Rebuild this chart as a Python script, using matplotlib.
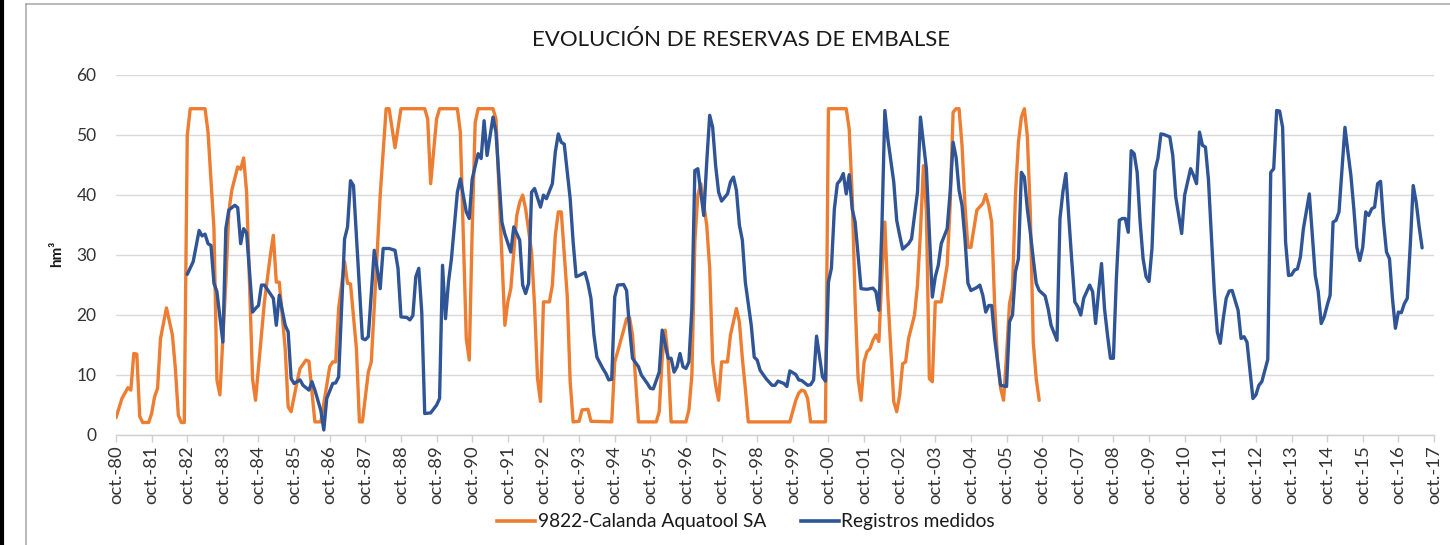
import matplotlib
matplotlib.use("Agg")
import matplotlib.pyplot as plt
from matplotlib.lines import Line2D

# ---------------- data (months counted from oct-1980) ----------------
orange_month = [0, 2, 4, 5, 6, 7, 8, 9, 11, 12, 13, 14, 15, 17, 19, 20, 21, 22, 23, 24, 25, 30, 31, 33, 34, 35,
                37, 38, 39, 41, 42, 43, 44, 46, 47, 50, 51, 52, 53, 54, 55, 57, 58, 59, 61, 62, 64, 65, 67, 69,
                72, 73, 74, 75, 77, 78, 79, 81, 82, 83, 85, 86, 88, 89, 91, 92, 94, 96, 104, 105, 106, 108, 109,
                115, 116, 118, 119, 120, 121, 122, 127, 128, 131, 132, 133, 135, 136, 137, 138, 140, 141, 142,
                143, 144, 146, 147, 148, 149, 150, 152, 153, 154, 156, 157, 159, 160, 167, 168, 169, 171, 172,
                173, 174, 175, 176, 182, 183, 184, 185, 186, 187, 192, 193, 194, 195, 196, 197, 199, 200, 201,
                202, 203, 204, 206, 207, 209, 210, 211, 212, 213, 227, 229, 230, 231, 232, 233, 234, 239, 240,
                246, 247, 248, 249, 250, 251, 252, 253, 254, 255, 256, 257, 258, 259, 260, 262, 263, 264, 265,
                266, 267, 269, 270, 271, 272, 273, 274, 275, 276, 278, 280, 281, 282, 283, 284, 285, 286, 287,
                288, 290, 292, 293, 294, 295, 296, 297, 298, 299, 300, 301, 302, 303, 304, 305, 306, 307, 308,
                309, 310, 311]
orange_value = [2.8, 6.0, 7.8, 7.4, 13.5, 13.4, 3.0, 2.0, 2.0, 3.5, 6.3, 7.7, 16.0, 21.1, 16.6, 11.0, 3.2, 2.0,
                2.0, 49.8, 54.3, 54.3, 50.4, 34.3, 9.1, 6.6, 25.4, 37.1, 40.7, 44.6, 44.2, 46.1, 40.4, 9.3, 5.7,
                22.1, 26.0, 29.9, 33.2, 25.4, 25.4, 14.3, 4.6, 3.8, 8.8, 11.0, 12.4, 12.2, 2.1, 2.1, 11.3, 12.1,
                12.1, 21.0, 28.8, 25.2, 25.1, 14.3, 2.1, 2.1, 10.4, 12.1, 30.4, 39.9, 54.3, 54.3, 47.8, 54.3,
                54.3, 52.6, 41.8, 52.6, 54.3, 54.3, 50.4, 16.0, 12.4, 34.3, 52.0, 54.3, 54.3, 52.6, 18.2, 22.1,
                24.3, 36.5, 38.7, 39.9, 37.6, 30.4, 21.5, 9.3, 5.5, 22.1, 22.1, 24.9, 33.2, 37.1, 37.1, 23.2,
                8.8, 2.1, 2.2, 4.1, 4.2, 2.2, 2.1, 12.1, 13.8, 17.4, 19.3, 19.5, 16.6, 9.3, 2.1, 2.1, 3.8, 12.7,
                17.4, 12.7, 2.1, 2.1, 4.1, 9.9, 32.1, 39.9, 41.8, 34.9, 27.7, 12.1, 8.2, 5.7, 12.1, 12.1, 16.6,
                21.0, 18.8, 12.7, 7.7, 2.1, 2.1, 5.7, 6.9, 7.4, 7.2, 6.0, 2.1, 2.1, 54.3, 54.3, 50.9, 39.9,
                22.1, 9.3, 5.7, 12.1, 13.8, 14.3, 15.7, 16.6, 15.5, 26.5, 35.4, 23.2, 5.5, 3.8, 6.6, 11.8, 12.1,
                16.0, 19.9, 24.9, 33.7, 44.8, 37.1, 9.3, 8.8, 22.1, 22.1, 28.2, 38.2, 53.7, 54.3, 54.3, 48.2,
                38.2, 31.2, 31.2, 37.4, 38.5, 40.0, 38.2, 35.4, 21.5, 12.1, 7.7, 5.7, 13.2, 21.8, 24.3, 39.9,
                48.7, 52.9, 54.3, 49.8, 37.1, 15.4, 9.3, 5.7]

blue_month = [24, 26, 28, 29, 30, 31, 32, 33, 34, 36, 37, 38, 40, 41, 42, 43, 44, 46, 47, 48, 49, 50, 53, 54, 55,
              57, 58, 59, 60, 62, 63, 65, 66, 67, 69, 70, 71, 73, 74, 75, 77, 78, 79, 80, 83, 84, 85, 87, 89, 90,
              92, 94, 95, 96, 98, 99, 100, 101, 102, 103, 104, 106, 108, 109, 110, 111, 112, 113, 115, 116, 118,
              119, 120, 122, 123, 124, 125, 127, 128, 130, 131, 133, 134, 136, 137, 138, 139, 140, 141, 143,
              144, 145, 147, 148, 149, 150, 151, 153, 154, 155, 156, 158, 159, 160, 161, 162, 164, 165, 166,
              167, 168, 169, 171, 172, 173, 174, 176, 177, 179, 180, 181, 183, 184, 186, 187, 188, 189, 190,
              191, 192, 193, 194, 195, 196, 197, 198, 199, 200, 201, 202, 203, 204, 206, 207, 208, 209, 210,
              211, 212, 214, 215, 216, 217, 219, 221, 222, 223, 225, 226, 227, 229, 230, 231, 233, 234, 235,
              236, 238, 239, 240, 241, 242, 243, 244, 245, 246, 247, 248, 249, 251, 253, 255, 256, 257, 258,
              259, 260, 262, 263, 264, 265, 267, 268, 270, 271, 273, 274, 275, 276, 277, 278, 280, 281, 282,
              283, 284, 285, 286, 287, 288, 290, 291, 292, 293, 294, 295, 296, 297, 298, 300, 301, 302, 303,
              304, 305, 306, 307, 308, 309, 310, 311, 313, 314, 315, 317, 318, 319, 320, 321, 322, 323, 324,
              325, 326, 328, 329, 330, 331, 332, 333, 334, 335, 336, 337, 338, 339, 340, 341, 342, 343, 344,
              345, 346, 347, 348, 349, 350, 351, 352, 353, 355, 356, 357, 359, 360, 362, 363, 364, 365, 366,
              367, 368, 369, 370, 371, 372, 373, 374, 375, 376, 378, 379, 380, 381, 382, 383, 384, 385, 386,
              388, 389, 390, 391, 392, 393, 394, 395, 396, 397, 398, 399, 400, 402, 403, 404, 405, 406, 407,
              408, 409, 410, 411, 412, 414, 415, 416, 417, 418, 419, 420, 421, 422, 423, 424, 425, 426, 427,
              428, 429, 430, 431, 432, 433, 434, 435, 436, 437, 438, 439, 440]
blue_value = [26.7, 28.8, 34.0, 33.1, 33.4, 31.8, 31.5, 25.2, 23.8, 15.4, 34.3, 37.4, 38.2, 37.8, 31.8, 34.3,
              33.6, 20.4, 21.0, 21.5, 24.9, 24.9, 22.7, 18.2, 23.2, 18.2, 17.1, 9.3, 8.5, 9.1, 8.2, 7.4, 8.8,
              7.4, 4.0, 0.75, 6.0, 8.5, 8.6, 9.6, 32.6, 34.6, 42.3, 41.5, 16.0, 15.8, 16.3, 30.7, 24.3, 31.0,
              31.0, 30.7, 27.7, 19.6, 19.5, 19.1, 19.8, 26.3, 27.7, 20.4, 3.5, 3.6, 4.9, 6.0, 28.2, 19.3, 25.4,
              29.3, 40.4, 42.6, 37.1, 36.0, 42.6, 46.8, 46.0, 52.3, 46.5, 52.9, 50.4, 35.4, 33.4, 30.4, 34.6,
              32.4, 24.9, 23.5, 25.2, 40.4, 41.0, 37.9, 39.9, 39.3, 41.8, 47.1, 50.1, 48.7, 48.4, 39.3, 32.1,
              26.3, 26.5, 27.0, 25.2, 22.7, 16.6, 12.9, 11.0, 10.2, 9.1, 9.2, 22.9, 24.9, 25.0, 24.0, 17.7,
              12.7, 11.3, 9.9, 8.5, 7.7, 7.6, 10.4, 17.4, 12.7, 12.7, 10.4, 11.3, 13.5, 11.3, 11.0, 12.1, 21.0,
              44.0, 44.3, 40.4, 36.5, 45.4, 53.2, 51.2, 44.8, 40.4, 38.9, 40.1, 42.1, 42.9, 40.7, 34.9, 32.4,
              25.4, 18.2, 12.9, 12.4, 10.7, 9.3, 8.2, 8.2, 8.9, 8.5, 8.0, 10.6, 10.0, 9.1, 9.0, 8.2, 8.3, 9.1,
              16.4, 9.6, 8.9, 25.4, 27.7, 37.6, 41.8, 42.4, 43.5, 40.1, 43.3, 37.6, 35.4, 24.3, 24.2, 24.4,
              23.8, 20.7, 34.3, 54.0, 49.3, 42.1, 35.7, 33.2, 30.9, 31.8, 32.6, 40.4, 52.9, 44.3, 33.7, 22.9,
              26.3, 28.2, 31.8, 34.3, 40.4, 48.7, 46.2, 40.7, 38.2, 32.6, 25.2, 24.0, 24.5, 24.9, 23.2, 20.4,
              21.5, 21.5, 16.0, 12.1, 8.2, 8.0, 18.8, 19.9, 27.1, 29.3, 43.7, 42.9, 37.6, 33.7, 29.3, 25.2,
              24.0, 23.1, 21.0, 18.2, 15.7, 36.0, 40.5, 43.5, 36.0, 28.8, 22.1, 21.3, 19.9, 22.7, 24.9, 23.8,
              18.5, 23.8, 28.5, 21.0, 16.6, 12.7, 12.7, 26.0, 35.7, 36.0, 36.0, 33.7, 47.3, 46.8, 43.7, 35.4,
              29.3, 26.3, 25.5, 31.0, 44.0, 46.0, 50.1, 50.0, 49.6, 46.5, 39.6, 33.5, 39.9, 44.3, 43.2, 41.8,
              50.4, 48.2, 47.9, 42.6, 33.2, 23.8, 17.1, 15.2, 19.3, 22.7, 23.9, 24.0, 20.7, 16.0, 16.3, 15.4,
              10.7, 6.0, 6.6, 8.2, 8.8, 12.5, 43.7, 44.3, 54.0, 53.9, 51.2, 32.1, 26.5, 26.6, 27.4, 27.6, 29.6,
              34.3, 40.1, 33.2, 26.5, 23.8, 18.5, 19.6, 21.5, 23.2, 35.4, 35.7, 37.1, 51.2, 47.1, 43.2, 37.6,
              31.2, 29.0, 31.2, 37.1, 36.5, 37.6, 37.9, 41.8, 42.2, 35.4, 30.4, 29.3, 22.7, 17.7, 20.4, 20.3,
              21.8, 22.7, 31.5, 41.5, 38.7, 34.6, 31.1]

years = list(range(1980, 2018))
tick_labels = ["oct.-%02d" % (y % 100) for y in years]
series_names = ["9822-Calanda Aquatool SA", "Registros medidos"]
title = "EVOLUCIÓN DE RESERVAS DE EMBALSE"
ylabel = "hm³"

# ---------------- figure ----------------
FONT = ["Lato", "DejaVu Sans"]
plt.rcParams["font.family"] = FONT

W, H = 1450, 545
fig = plt.figure(figsize=(W / 100, H / 100), dpi=100)
fig.patch.set_facecolor("white")

left, right, top, bottom = 116, 1434, 74.5, 434.5
ax = fig.add_axes([left / W, 1 - bottom / H, (right - left) / W, (bottom - top) / H])

orange = "#ED7D31"
blue = "#2F5597"
ax.plot(orange_month, orange_value, color=orange, lw=2.4, solid_joinstyle="round",
        solid_capstyle="round", zorder=3, label=series_names[0])
ax.plot(blue_month, blue_value, color=blue, lw=2.4, solid_joinstyle="round",
        solid_capstyle="round", zorder=4, label=series_names[1])

ax.set_xlim(0, 12 * (years[-1] - years[0]))
ax.set_ylim(0, 60)
ax.set_yticks(range(0, 61, 10))
ax.set_xticks([12 * (y - years[0]) for y in years])
ax.set_xticklabels(tick_labels, rotation=90, fontsize=13.3, color="#333333")
ax.tick_params(axis="y", length=0, pad=14, labelsize=12.5, labelcolor="#333333")
ax.tick_params(axis="x", length=5, width=1, color="#D0D0D0", pad=3)
ax.grid(axis="y", color="#D9D9D9", lw=1)
ax.set_axisbelow(True)
for s in ["left", "right", "top"]:
    ax.spines[s].set_visible(False)
ax.spines["bottom"].set_color("#D0D0D0")
ax.spines["bottom"].set_linewidth(1)

fig.text(57 / W, 1 - 254 / H, ylabel, rotation=90, ha="center", va="center",
         fontsize=11, fontweight="bold", color="#1a1a1a")
fig.text(741 / W, 1 - 40 / H, title, ha="center", va="center", fontsize=16, color="#1a1a1a")

handles = [Line2D([], [], color=orange, lw=2.6), Line2D([], [], color=blue, lw=2.6)]
fig.legend(handles, series_names, loc="center", bbox_to_anchor=(746 / W, 1 - 522 / H), ncol=2,
           frameon=False, fontsize=13.8, handlelength=2.0, handletextpad=0.12, columnspacing=1.8,
           labelcolor="#1a1a1a")

# chart frame pieces visible in the crop
fig.add_artist(Line2D([2 / W, 2 / W], [0, 1], transform=fig.transFigure, color="black", lw=3))
fig.add_artist(Line2D([26 / W, 26 / W], [0, 1 - 4 / H], transform=fig.transFigure, color="#A6A6A6", lw=1.1))
fig.add_artist(Line2D([26 / W, 1], [1 - 4 / H, 1 - 4 / H], transform=fig.transFigure, color="#A6A6A6", lw=1.1))

fig.savefig("out.png", dpi=100)
